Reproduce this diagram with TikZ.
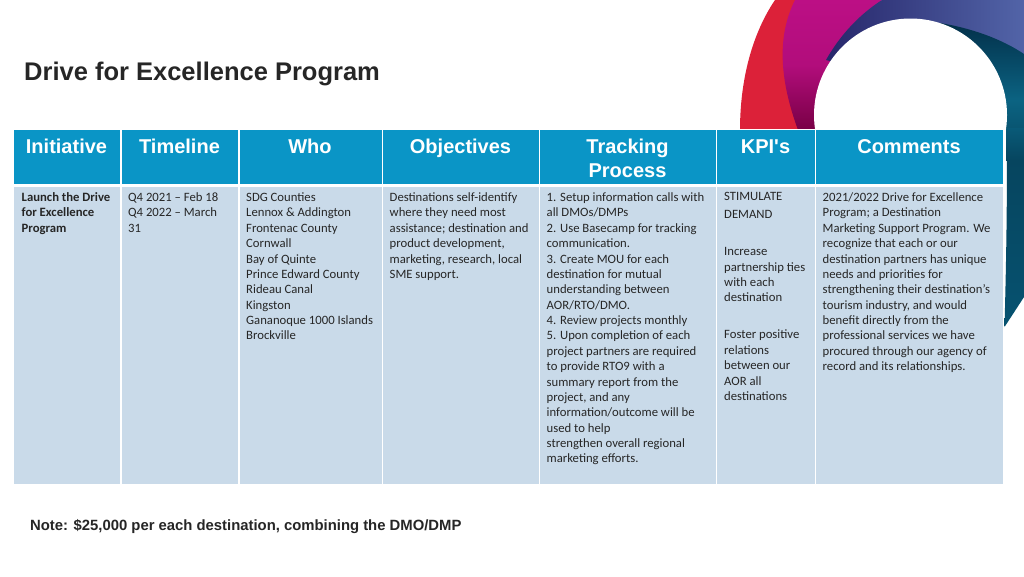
\documentclass[tikz,border=0pt]{standalone}
\usepackage{fontspec}
\setmainfont{Liberation Sans}
\newfontfamily\bodyfont{Carlito}
\definecolor{hdr}{HTML}{0A95C6}
\definecolor{cellbg}{HTML}{C9DAE9}
\definecolor{ink}{HTML}{262626}
\definecolor{swred}{HTML}{DC2139}
\definecolor{magtop}{HTML}{BC0F85}
\definecolor{magbot}{HTML}{780045}
\definecolor{blueL}{HTML}{27276B}
\definecolor{blueR}{HTML}{5264A8}
\definecolor{tealT}{HTML}{03304A}
\definecolor{tealB}{HTML}{0B6382}
\definecolor{tealD}{HTML}{06455F}
\definecolor{tealE}{HTML}{065270}
\tikzset{
 x=1pt,y=1pt,
 headcell/.style={fill=hdr,draw=none,anchor=north west,inner sep=0,minimum height=54pt},
 bodycell/.style={fill=cellbg,draw=none,anchor=north west,inner sep=0,minimum height=297.5pt},
 headtext/.style={text=white,font=\fontsize{20}{24}\selectfont\bfseries,align=center,anchor=north,inner sep=0},
 celltext/.style={text=ink,font=\bodyfont\fontsize{12.7}{15.38}\selectfont,align=left,anchor=north west,inner sep=0},
 titletext/.style={text=ink,font=\fontsize{25.5}{30}\selectfont\bfseries,anchor=west,inner sep=0},
 notetext/.style={text=ink,font=\fontsize{14.85}{17}\selectfont\bfseries,anchor=west,inner sep=0},
}
\begin{document}
\begin{tikzpicture}
\useasboundingbox (0,0) rectangle (1024,-576);
\fill[white] (0,0) rectangle (1024,-576);
% swirl
\fill[swred] (775,0) .. controls (752,-34) and (740,-80) .. (740,-130) -- (800,-130) -- (830,-60) -- (800,0) -- cycle;
\shade[top color=magtop,bottom color=magbot,middle color=magtop!85!magbot] (795,0) .. controls (780,-30) and (776,-70) .. (798,-130) -- (830,-130) -- (860,-40) -- (882,0) -- cycle;
\shade[left color=blueL,right color=blueR] (882,0) .. controls (860,-14) and (840,-35) .. (826,-60) -- (900,-80) -- (1024,-56) -- (1024,0) -- cycle;
\shade[top color=tealT,bottom color=tealB] (940,-23) .. controls (970,-28) and (1000,-38) .. (1024,-54) -- (1024,-100) -- (960,-100) -- cycle;
\shade[top color=tealB,bottom color=tealD] (1000,-100) rectangle (1024,-160);
\fill[white] (910.5,-115) circle (96.5);
\fill[white] (740,-128.5) rectangle (1006,-520);
\shade[top color=tealD,bottom color=tealE] (1006.9,-160) -- (1024,-160) -- (1024,-297) -- (1004.5,-327) .. controls (1006,-270) and (1007,-215) .. (1006.9,-160) -- cycle;
\shade[top color=tealB!70!tealD,bottom color=tealD] (1006.5,-128) -- (1024,-128) -- (1024,-160.5) -- (1006.9,-160.5) -- cycle;
% title
\node[titletext] (title) at (24,-74) {Drive for Excellence Program};
% header cells
\node[headcell,minimum width=105.5pt] (h1) at (14,-130) {};
\node[headcell,minimum width=116.5pt] (h2) at (121.5,-130) {};
\node[headcell,minimum width=142pt] (h3) at (239.5,-130) {};
\node[headcell,minimum width=155.5pt] (h4) at (383,-130) {};
\node[headcell,minimum width=175.5pt] (h5) at (540,-130) {};
\node[headcell,minimum width=97.5pt] (h6) at (717,-130) {};
\node[headcell,minimum width=187pt] (h7) at (816,-130) {};
% body cells
\node[bodycell,minimum width=105.5pt] (b1) at (14,-186.5) {};
\node[bodycell,minimum width=116.5pt] (b2) at (121.5,-186.5) {};
\node[bodycell,minimum width=142pt] (b3) at (239.5,-186.5) {};
\node[bodycell,minimum width=155.5pt] (b4) at (383,-186.5) {};
\node[bodycell,minimum width=175.5pt] (b5) at (540,-186.5) {};
\node[bodycell,minimum width=97.5pt] (b6) at (717,-186.5) {};
\node[bodycell,minimum width=187pt] (b7) at (816,-186.5) {};
% header text
\node[headtext] (t1) at (66.5,-138.5) {Initiative};
\node[headtext] (t2) at (179.5,-138.5) {Timeline};
\node[headtext] (t3) at (310,-138.5) {Who};
\node[headtext] (t4) at (460.5,-138.5) {Objectives};
\node[headtext] (t5) at (627.5,-138.5) {Tracking\\Process};
\node[headtext] (t6) at (765.5,-139.3) {KPI\textquotesingle s};
\node[headtext] (t7) at (909,-139.3) {Comments};
% body text
\node[celltext,font=\bodyfont\bfseries\fontsize{12.7}{15.38}\selectfont] (c1) at (21.5,-192.5) {Launch the Drive\\for Excellence\\Program};
\node[celltext] (c2) at (128,-192.5) {Q4 2021 – Feb 18\\Q4 2022 – March\\31};
\node[celltext] (c3) at (246,-192.5) {SDG Counties\\Lennox \& Addington\\Frontenac County\\Cornwall\\Bay of Quinte\\Prince Edward County\\Rideau Canal\\Kingston\\Gananoque 1000 Islands\\Brockville};
\node[celltext] (c4) at (389.5,-192.5) {Destinations self-identify\\where they need most\\assistance; destination and\\product development,\\marketing, research, local\\SME support.};
\node[celltext] (c5) at (546.5,-192.5) {1. Setup information calls with\\all DMOs/DMPs\\2. Use Basecamp for tracking\\communication.\\3. Create MOU for each\\destination for mutual\\understanding between\\AOR/RTO/DMO.\\4. Review projects monthly\\5. Upon completion of each\\project partners are required\\to provide RTO9 with a\\summary report from the\\project, and any\\information/outcome will be\\used to help\\strengthen overall regional\\marketing efforts.};
\node[celltext] (c6a) at (724,-192.5) {STIMULATE};
\node[celltext] (c6b) at (724,-210.5) {DEMAND};
\node[celltext] (c6c) at (724,-247.5) {Increase\\partnership ties\\with each\\destination};
\node[celltext] (c6d) at (724,-330) {Foster positive\\relations\\between our\\AOR all\\destinations};
\node[celltext] (c7) at (822.5,-192.5) {2021/2022 Drive for Excellence\\Program; a Destination\\Marketing Support Program. We\\recognize that each or our\\destination partners has unique\\needs and priorities for\\strengthening their destination’s\\tourism industry, and would\\benefit directly from the\\professional services we have\\procured through our agency of\\record and its relationships.};
% note
\node[notetext] (note) at (30,-527) {Note: \$25,000 per each destination, combining the DMO/DMP};
\end{tikzpicture}
\end{document}
